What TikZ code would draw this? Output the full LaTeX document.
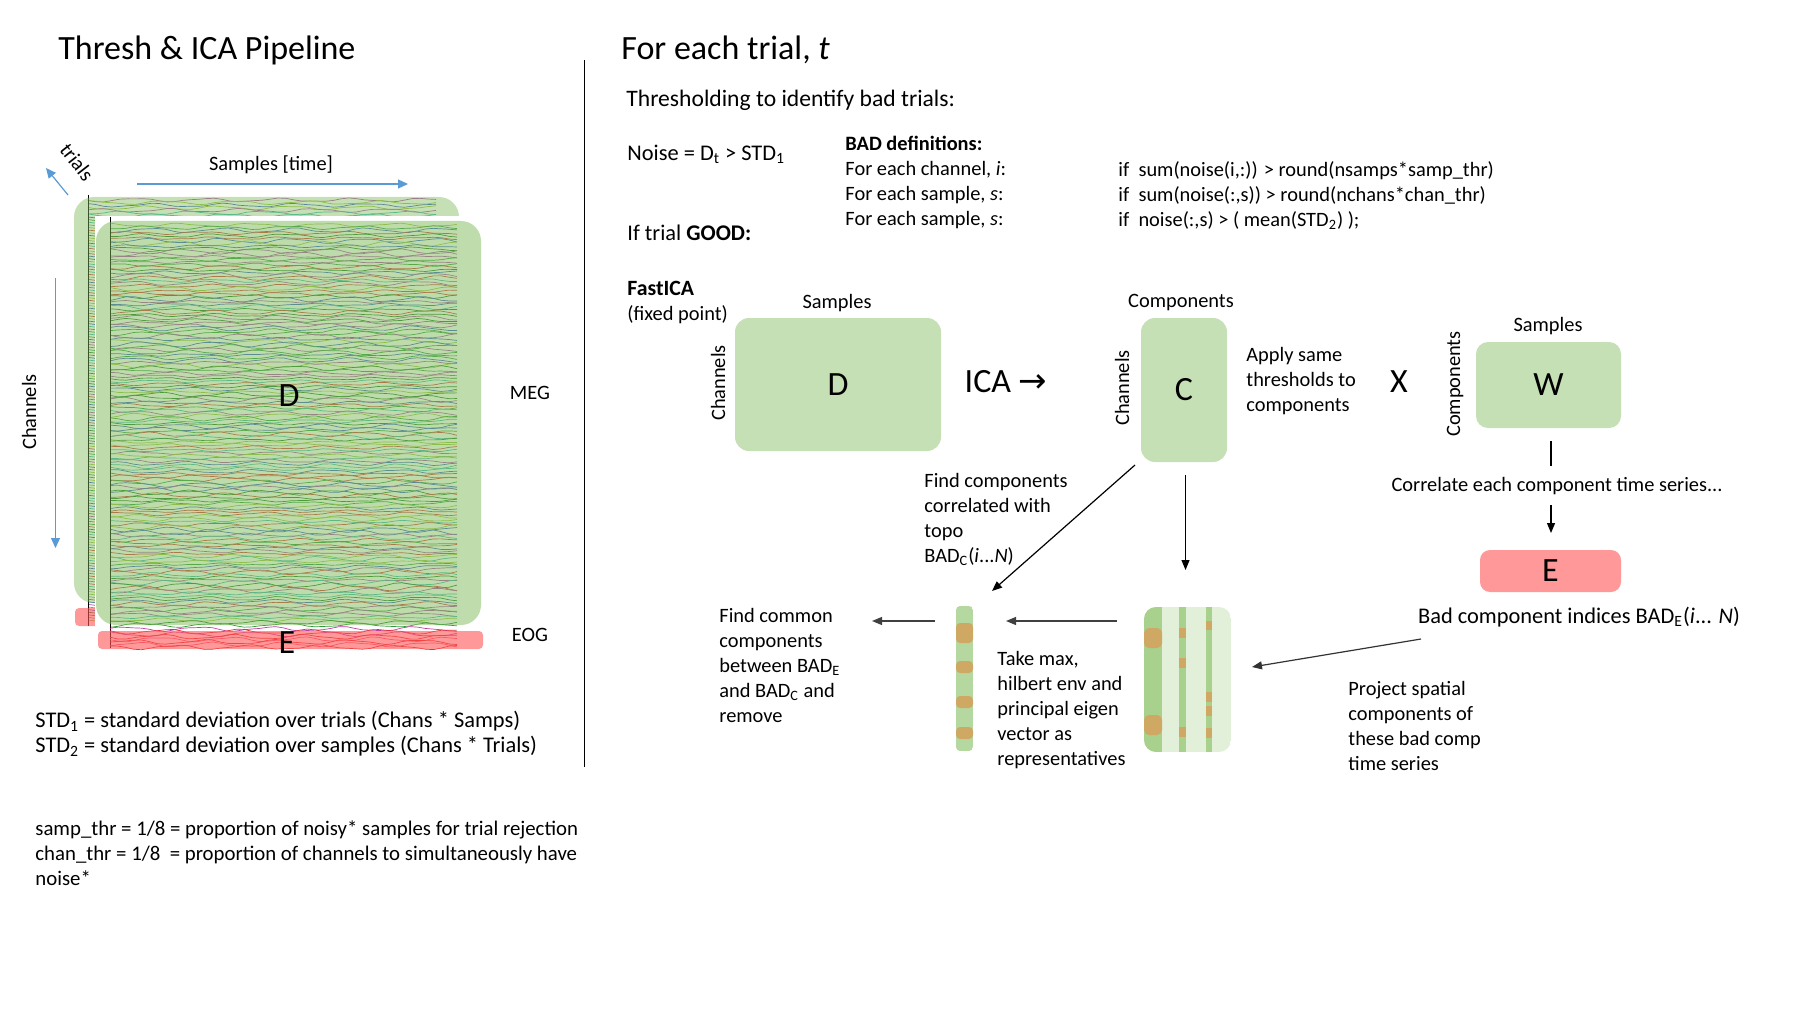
\documentclass[tikz,border=0pt]{standalone}
\usepackage{fontspec}
\setmainfont{Carlito}
\newfontfamily\dejavu{DejaVu Sans}
\usetikzlibrary{arrows.meta}
\definecolor{boxgreen}{HTML}{C5E0B4}
\definecolor{boxred}{HTML}{FF9999}
\definecolor{ovgreen}{HTML}{7FBB59}
\definecolor{ovred}{HTML}{FF5555}
\definecolor{axblue}{HTML}{5B9BD5}
\definecolor{colgreen}{HTML}{A9D18E}
\definecolor{thincol}{HTML}{B5D8A0}
\definecolor{lightgreen}{HTML}{E2F0D9}
\definecolor{ochre}{HTML}{CFA864}
\definecolor{tr0}{HTML}{2E9A3A}
\definecolor{tr1}{HTML}{3A5FC8}
\definecolor{tr2}{HTML}{D83A3A}
\definecolor{tr3}{HTML}{B050B0}
\definecolor{tr4}{HTML}{3CB8B0}
\definecolor{tr5}{HTML}{9CC23A}
\definecolor{tr6}{HTML}{1F7A1F}
\definecolor{eo0}{HTML}{E03030}
\definecolor{eo1}{HTML}{C040A0}
\definecolor{eo2}{HTML}{F06080}
\definecolor{eo3}{HTML}{9040B0}
\begin{document}
\begin{tikzpicture}[x=0.5pt,y=-0.5pt,
  body/.style={font=\fontsize{10.2}{12.5}\selectfont, inner sep=0pt},
  bodym/.style={font=\fontsize{11.2}{12.5}\selectfont, inner sep=0pt},
  bodyl/.style={body, align=left, anchor=north west},
  big/.style={font=\fontsize{17}{20}\selectfont, inner sep=0pt},
  gbox/.style={fill=boxgreen, rounded corners=7pt, inner sep=0pt, font=\fontsize{17}{20}\selectfont},
  rbox/.style={fill=boxred, rounded corners=5pt, inner sep=0pt, font=\fontsize{17}{20}\selectfont},
  trace/.style={line width=0.35pt},
  arr/.style={line width=0.6pt, -{Triangle[length=5pt,width=4pt]}},
  plainline/.style={line width=0.6pt},
  blarr/.style={axblue, line width=0.6pt, -{Triangle[length=5pt,width=4.5pt]}},
]
\useasboundingbox (0,0) rectangle (1807,1016);

% ---------------- left panel: stacked data ----------------
\pgfmathsetseed{7}
% back trial: top strip traces
\foreach \k in {0,...,6} {
  \pgfmathsetmacro\yy{200+\k*2.6}
  \pgfmathsetmacro\pa{360*rnd}
  \pgfmathsetmacro\pb{360*rnd}
  \pgfmathtruncatemacro\cc{mod(int(70*rnd),7)}
  \draw[color=tr\cc, trace] plot[domain=88:436, samples=45] (\x, {\yy+1.6*sin(5*\x+\pa)+0.5*sin(11*\x+\pb)});
}
% back trial: left edge of traces
\foreach \k in {0,...,155} {
  \pgfmathsetmacro\yy{217+\k*2.6}
  \pgfmathtruncatemacro\cc{mod(int(70*rnd),7)}
  \draw[color=tr\cc, trace] (88,\yy) -- (96,\yy+1);
}
\draw[line width=0.5pt] (88,195) -- (88,626);
\fill[ovgreen, opacity=0.45, rounded corners=10pt] (74,197) rectangle (459,603);
\fill[ovred, opacity=0.6, rounded corners=2pt] (75,608) rectangle (100,626);
% front trial
\fill[white] (95,216) rectangle (460,652);
\foreach \k in {0,...,151} {
  \pgfmathsetmacro\yy{225+\k*2.65}
  \pgfmathsetmacro\pa{360*rnd}
  \pgfmathsetmacro\pb{360*rnd}
  \pgfmathsetmacro\am{0.8+1.6*rnd}
  \pgfmathtruncatemacro\cc{mod(int(70*rnd),7)}
  \draw[color=tr\cc, trace] plot[domain=110:457, samples=45] (\x, {\yy+\am*sin(5*\x+\pa)+0.5*sin(11*\x+\pb)});
}
\draw[line width=0.5pt] (110,217) -- (110,648);
\fill[ovgreen, opacity=0.5, rounded corners=10pt] (96,221) rectangle (481,625);
\foreach \k in {0,...,7} {
  \pgfmathsetmacro\yy{629+\k*2.6}
  \pgfmathsetmacro\pa{360*rnd}
  \pgfmathsetmacro\pb{360*rnd}
  \pgfmathtruncatemacro\cc{mod(int(40*rnd),4)}
  \draw[color=eo\cc, trace] plot[domain=110:457, samples=45] (\x, {\yy+2*sin(5*\x+\pa)+0.6*sin(11*\x+\pb)});
}
\fill[ovred, opacity=0.6, rounded corners=2pt] (98,631) rectangle (483,649);

\node[big] (Dl) at (289,396) {D};
\node[big] (El) at (287,643) {E};
\node[body] (meg) at (530,393) {MEG};
\node[body] (eog) at (530,635) {EOG};

% axes
\node[body] (samptime) at (271,165) {Samples [time]};
\coordinate (sa1) at (137,184); \coordinate (sa2) at (408,184);
\draw[blarr] (sa1) -- (sa2);
\node[body, rotate=90] (chanl) at (29,412) {Channels};
\coordinate (ch1) at (55.5,278); \coordinate (ch2) at (55.5,548);
\draw[blarr] (ch1) -- (ch2);
\node[body, rotate=-52] (trials) at (77,162) {trials};
\coordinate (tr1) at (68,195); \coordinate (tr2) at (46,168);
\draw[blarr] (tr1) -- (tr2);

% titles and divider
\node[big, anchor=west] (title1) at (58,50) {Thresh \& ICA Pipeline};
\node[big, anchor=west] (title2) at (621,50) {For each trial, \textit{t}};
\coordinate (dv1) at (584,60); \coordinate (dv2) at (584,767);
\draw[line width=0.5pt] (dv1) -- (dv2);

% bottom-left notes
\node[bodyl, font=\fontsize{11.2}{12.5}\selectfont] (std) at (35,711) {STD\textsubscript{1} = standard deviation over trials (Chans * Samps)\\STD\textsubscript{2} = standard deviation over samples (Chans * Trials)};
\node[bodyl, font=\fontsize{10.4}{12.5}\selectfont] (thr) at (35,820) {samp\_thr = 1/8 = proportion of noisy* samples for trial rejection\\chan\_thr = 1/8~ = proportion of channels to simultaneously have\\noise*};

% ---------------- right panel ----------------
\node[body, anchor=west, font=\fontsize{11.8}{14}\selectfont] (thtxt) at (626,100) {Thresholding to identify bad trials:};
\node[bodym, anchor=west] (noise) at (627,154) {Noise = D\textsubscript{t} > STD\textsubscript{1}};
\node[bodyl] (baddef) at (845,136) {\textbf{BAD definitions:}\\For each channel, \textit{i}:\\For each sample, \textit{s}:\\For each sample, \textit{s}:};
\node[bodyl] (ifs) at (1118,161) {if~ sum(noise(i,:)) > round(nsamps*samp\_thr)\\if~ sum(noise(:,s)) > round(nchans*chan\_thr)\\if~ noise(:,s) > ( mean(STD\textsubscript{2}) );};
\node[bodym, anchor=west] (good) at (627,233) {If trial \textbf{GOOD:}};
\node[bodyl] (fast) at (627,281) {{\fontsize{10.9}{12.5}\selectfont\textbf{FastICA}}\\(fixed point)};

% D box
\node[body] (sampD) at (837,303) {Samples};
\node[gbox, minimum width=103pt, minimum height=66.5pt] (Dbox) at (838,384.5) {D};
\node[body, rotate=90] (chanD) at (718,383) {Channels};
\node[big] (ica) at (1006,382) {ICA {\dejavu →}};

% C box
\node[body] (compC) at (1181,303) {Components};
\node[gbox, minimum width=43pt, minimum height=72pt] (Cbox) at (1184,390) {C};
\node[body, rotate=90] (chanC) at (1122,388) {Channels};
\node[bodyl] (apply) at (1246,347) {Apply same\\thresholds to\\components};
\node[big] (times) at (1399,382) {X};

% W box
\node[body] (sampW) at (1548,326) {Samples};
\node[gbox, rounded corners=6pt, minimum width=72.5pt, minimum height=43pt] (Wbox) at (1548.5,385) {W};
\node[body, rotate=90] (compW) at (1455,384) {Components};
\node[body] (corr) at (1557,486) {Correlate each component time series...};
\node[rbox, minimum width=70.5pt, minimum height=21pt] (Ebox) at (1550.5,571) {E};
\node[bodym] (bade) at (1579,617) {Bad component indices BAD\textsubscript{E}(\textit{i}... \textit{N})};

\coordinate (w1) at (1551,441); \coordinate (w2) at (1551,466);
\draw[plainline] (w1) -- (w2);
\coordinate (e1) at (1551,505); \coordinate (e2) at (1551,533);
\draw[arr] (e1) -- (e2);

% striped component block
\node[inner sep=0, minimum width=43.5pt, minimum height=72.5pt] (stripes) at (1187.5,679.5) {};
\begin{scope}
\clip[rounded corners=6pt] (1144,607) rectangle (1231,752);
\fill[lightgreen] (1144,607) rectangle (1231,752);
\fill[colgreen] (1144,607) rectangle (1162,752);
\fill[colgreen] (1179,607) rectangle (1186,752);
\fill[colgreen] (1206,607) rectangle (1212,752);
\fill[ochre, rounded corners=2.5pt] (1144,628) rectangle (1162,648);
\fill[ochre, rounded corners=2.5pt] (1144,715) rectangle (1162,735);
\fill[ochre] (1179,628) rectangle (1186,638);
\fill[ochre] (1179,658) rectangle (1186,668);
\fill[ochre] (1179,727) rectangle (1186,737);
\fill[ochre] (1206,621) rectangle (1212,630);
\fill[ochre] (1206,692) rectangle (1212,702);
\fill[ochre] (1206,706) rectangle (1212,716);
\fill[ochre] (1206,728) rectangle (1212,738);
\end{scope}

% thin representative column
\node[inner sep=0, minimum width=8.5pt, minimum height=72.5pt] (col) at (964.5,678.5) {};
\begin{scope}
\clip[rounded corners=2pt] (956,606) rectangle (973,751);
\fill[thincol] (956,606) rectangle (973,751);
\fill[ochre, rounded corners=2pt] (956,623) rectangle (973,643);
\fill[ochre, rounded corners=2pt] (956,661) rectangle (973,673);
\fill[ochre, rounded corners=2pt] (956,696) rectangle (973,708);
\fill[ochre, rounded corners=2pt] (956,727) rectangle (973,739);
\end{scope}

\node[bodyl] (findc) at (924,473) {Find components\\correlated with\\topo\\BAD\textsubscript{C}(\textit{i}...\textit{N})};
\node[bodyl] (common) at (719,608) {Find common\\components\\between BAD\textsubscript{E}\\and BAD\textsubscript{C} and\\remove};
\node[bodyl] (takemax) at (997,651) {Take max,\\hilbert env and\\principal eigen\\vector as\\representatives};
\node[bodyl] (project) at (1348,681) {Project spatial\\components of\\these bad comp\\time series};

% connectors
\coordinate (d1) at (1135,465); \coordinate (d2) at (992,591);
\draw[arr] (d1) -- (d2);
\coordinate (v1) at (1185.5,475); \coordinate (v2) at (1185.5,570);
\draw[arr] (v1) -- (v2);
\coordinate (h1) at (1117,621); \coordinate (h2) at (1006,621);
\draw[arr, black!75] (h1) -- (h2);
\coordinate (h3) at (935,621); \coordinate (h4) at (872,621);
\draw[arr, black!75] (h3) -- (h4);
\coordinate (p1) at (1421,639); \coordinate (p2) at (1252,667);
\draw[arr, black!80] (p1) -- (p2);
\end{tikzpicture}
\end{document}
